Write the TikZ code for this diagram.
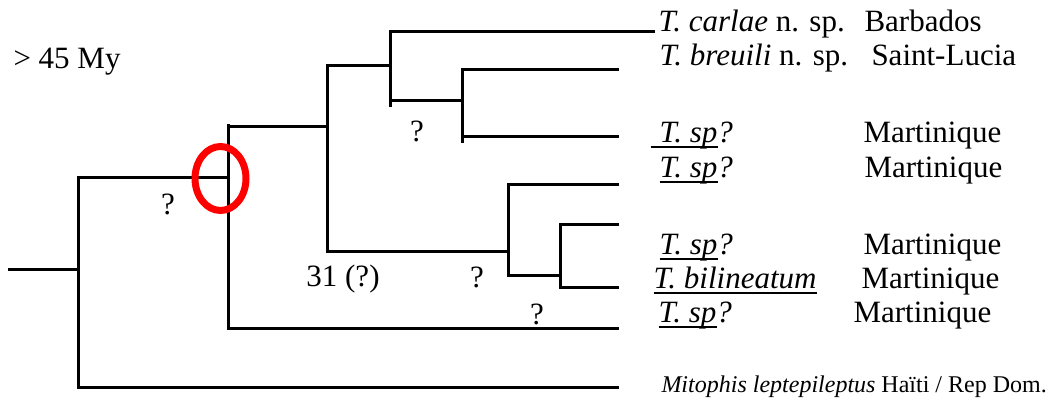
\documentclass[tikz,border=0pt]{standalone}
\usepackage{fontspec}
\usetikzlibrary{shapes.geometric}
\setmainfont{Liberation Serif}
\newcommand\myul[2][0pt]{\setbox0\hbox{\hspace*{#1}#2}\rlap{\rule[-5pt]{\wd0}{2pt}}\box0}
\begin{document}
\begin{tikzpicture}[x=1pt,y=-1pt,line width=3pt,line join=miter,
  lab/.style={font=\fontsize{31}{37}\selectfont,inner sep=0pt,anchor=base west},
  small/.style={font=\fontsize{24}{29}\selectfont,inner sep=0pt,anchor=base west},
  qm/.style={font=\fontsize{31}{37}\selectfont,inner sep=0pt,anchor=base}]
\useasboundingbox (0,0) rectangle (1053,403);
% tree coordinates
\coordinate (R0) at (8,270);
\coordinate (A) at (78,270);
\coordinate (B) at (228,178);
\coordinate (C) at (327,127);
\coordinate (D) at (390,66);
\coordinate (E) at (462,101);
\coordinate (F) at (508,252);
\coordinate (G) at (560,276);
\coordinate (L1) at (655,32);
\coordinate (L2) at (619,70);
\coordinate (L3) at (619,137);
\coordinate (L4) at (619,185);
\coordinate (L5) at (619,225);
\coordinate (L6) at (619,288);
\coordinate (L7) at (619,329);
\coordinate (L8) at (619,388);
% branches
\draw (R0) -- (A);
\draw (B) -| (A) |- (L8);
\draw (C) -| (B) |- (L7);
\draw (D) -| (C) |- (F);
\draw (L1) -| (D) |- (E);
\draw (L2) -| (E) |- (L3);
\draw (L4) -| (F) |- (G);
\draw (L5) -| (G) |- (L6);
\draw (D |- E) -- ++(0,6);
\draw (E |- L3) -- ++(0,6);
\draw (B |- C) -- ++(0,-3);
% red circle
\node[draw=red,line width=7pt,ellipse,minimum width=51pt,minimum height=64pt,inner sep=0pt] (ring) at (220.5,178.5) {};
% labels
\node[lab] (age) at (12,69) {> 45 My};
\node[qm] (q1) at (417,142) {?};
\node[qm] (q2) at (168,215) {?};
\node[qm] (q3) at (343,287) {31 (?)};
\node[qm] (q4) at (477,288) {?};
\node[qm] (q5) at (537,325) {?};
% taxa
\node[lab] (t1) at (657,32) {\textit{T. carlae} n. sp.};
\node[lab] (p1) at (863,32) {Barbados};
\node[lab] (t2) at (658,66) {\textit{T. breuili} n. sp.};
\node[lab] (p2) at (870,66) {Saint-Lucia};
\node[lab] (t3) at (649,143) {\myul[9pt]{\textit{T. sp}}\textit{?}};
\node[lab] (p3) at (862,143) {Martinique};
\node[lab] (t4) at (658,178) {\myul{\textit{T. sp}}\textit{?}};
\node[lab] (p4) at (863,178) {Martinique};
\node[lab] (t5) at (658,255) {\myul{\textit{T. sp}}\textit{?}};
\node[lab] (p5) at (862,255) {Martinique};
\node[lab] (t6) at (652,289) {\myul{\textit{T. bilineatum}}};
\node[lab] (p6) at (860,289) {Martinique};
\node[lab] (t7) at (657,323) {\myul{\textit{T. sp}}\textit{?}};
\node[lab] (p7) at (852,323) {Martinique};
\node[small] (t8) at (660,393) {\textit{Mitophis leptepileptus} Haïti / Rep Dom.};
\end{tikzpicture}
\end{document}
